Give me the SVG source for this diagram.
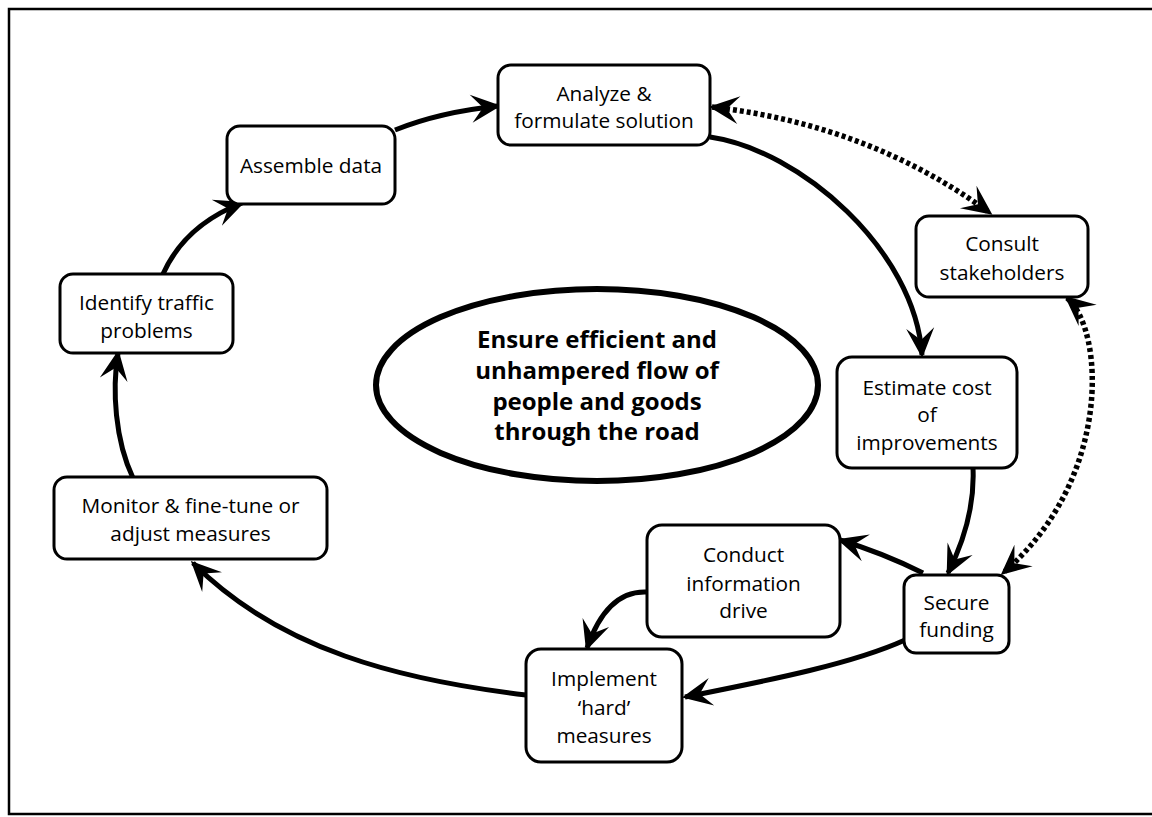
<svg xmlns="http://www.w3.org/2000/svg" width="1152" height="817" viewBox="0 0 1152 817">
<style>
.box{fill:#fff;stroke:#000;stroke-width:3}
.t{font-family:"Open Sans","Noto Sans",sans-serif;font-size:20.8px;fill:#000;text-anchor:middle;dominant-baseline:central}
.b{font-family:"Open Sans","Noto Sans",sans-serif;font-size:24px;font-weight:bold;fill:#000;text-anchor:middle;dominant-baseline:central}
.c{fill:none;stroke:#000;stroke-width:5}
.d{fill:none;stroke:#000;stroke-width:5.5;stroke-dasharray:4 3}
.frame{fill:none;stroke:#000;stroke-width:2.5}
</style>
<defs>
<marker id="ah" markerUnits="userSpaceOnUse" markerWidth="36" markerHeight="36" viewBox="-4 -18 36 36" refX="25" refY="0" orient="auto">
<path d="M28,0 L-2,-14 L10,0 L-2,14 Z" fill="#000"/>
</marker>
<marker id="ah2" markerUnits="userSpaceOnUse" markerWidth="36" markerHeight="36" viewBox="-4 -18 36 36" refX="25" refY="0" orient="auto-start-reverse">
<path d="M28,0 L-2,-14 L10,0 L-2,14 Z" fill="#000"/>
</marker>
</defs>
<rect width="1152" height="817" fill="#fff"/>
<path class="frame" d="M1152,9 L9,9 L9,814 L1152,814"/>

<g id="connectors">
<path class="c" d="M163,274 Q185,225 242,203" marker-end="url(#ah)"/>
<path class="c" d="M395,130 Q440,112 498,106" marker-end="url(#ah)"/>
<path class="c" d="M710,137 C800,150 915,250 922,355" marker-end="url(#ah)"/>
<path class="c" d="M973,468 C975,510 962,545 948,573" marker-end="url(#ah)"/>
<path class="c" d="M923,573 Q883,553 840,540" marker-end="url(#ah)"/>
<path class="c" d="M647,592 Q607,590 587,648" marker-end="url(#ah)"/>
<path class="c" d="M905,640 C850,665 760,682 685,697" marker-end="url(#ah)"/>
<path class="c" d="M526,695 C400,680 280,650 193,563" marker-end="url(#ah)"/>
<path class="c" d="M133,478 C115,440 112,390 118,353" marker-end="url(#ah)"/>
<path class="d" d="M712,107 Q870,125 990,213" marker-start="url(#ah2)" marker-end="url(#ah2)"/>
<path class="d" d="M1067,298 C1105,330 1112,480 1003,573" marker-start="url(#ah2)" marker-end="url(#ah2)"/>
</g>

<g id="goal">
<ellipse cx="597" cy="385" rx="221" ry="96" fill="#fff" stroke="#000" stroke-width="6"/>
<text class="b" x="597" y="338">Ensure efficient and</text>
<text class="b" x="597" y="369">unhampered flow of</text>
<text class="b" x="597" y="400">people and goods</text>
<text class="b" x="597" y="430">through the road</text>
</g>

<g id="analyze">
<rect class="box" x="498" y="65" width="212" height="80" rx="13"/>
<text class="t" x="604" y="93">Analyze &amp;</text>
<text class="t" x="604" y="120">formulate solution</text>
</g>

<g id="assemble">
<rect class="box" x="227" y="126" width="168" height="78" rx="13"/>
<text class="t" x="311" y="165">Assemble data</text>
</g>

<g id="consult">
<rect class="box" x="916" y="216" width="172" height="81" rx="13"/>
<text class="t" x="1002" y="243">Consult</text>
<text class="t" x="1002" y="272">stakeholders</text>
</g>

<g id="identify">
<rect class="box" x="60" y="274" width="173" height="79" rx="13"/>
<text class="t" x="146.5" y="302">Identify traffic</text>
<text class="t" x="146.5" y="330">problems</text>
</g>

<g id="estimate">
<rect class="box" x="837" y="357" width="180" height="111" rx="15"/>
<text class="t" x="927" y="387">Estimate cost</text>
<text class="t" x="927" y="414">of</text>
<text class="t" x="927" y="442">improvements</text>
</g>

<g id="monitor">
<rect class="box" x="54" y="477" width="273" height="82" rx="13"/>
<text class="t" x="190.5" y="505">Monitor &amp; fine-tune or</text>
<text class="t" x="190.5" y="533">adjust measures</text>
</g>

<g id="conduct">
<rect class="box" x="647" y="525" width="193" height="112" rx="15"/>
<text class="t" x="743.5" y="554">Conduct</text>
<text class="t" x="743.5" y="583">information</text>
<text class="t" x="743.5" y="610">drive</text>
</g>

<g id="secure">
<rect class="box" x="904" y="575" width="105" height="78" rx="12"/>
<text class="t" x="956.5" y="602">Secure</text>
<text class="t" x="956.5" y="629">funding</text>
</g>

<g id="implement">
<rect class="box" x="526" y="649" width="156" height="113" rx="15"/>
<text class="t" x="604" y="678">Implement</text>
<text class="t" x="604" y="707">‘hard’</text>
<text class="t" x="604" y="735">measures</text>
</g>
</svg>
